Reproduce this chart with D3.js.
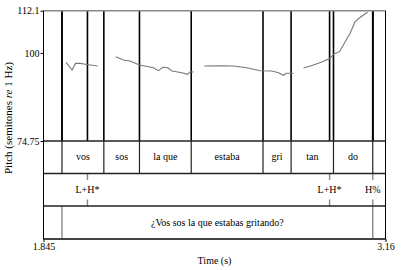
<!DOCTYPE html>
<html>
<head>
  <meta charset="UTF-8">
	<style>
	body { margin: 0; background: white; }
	svg { display: block; font-family: 'Liberation Serif', 'Times New Roman', serif; }
	.axis text { font-size: 10px; font-family: 'Liberation Serif', 'Times New Roman', serif; fill: black; }
	.axis line, .axis path { stroke: black; }
	.tierText { font-size: 10px; text-anchor: middle; }
	</style>
</head>
<body>
<script src="https://d3js.org/d3.v7.min.js"></script>
<script>
  // pitch track (semitones re 1 Hz), null = unvoiced gap
  let pitchTimes = [1.932, 1.955, 1.968, 1.986, 2.012, 2.053, null,
    2.122, 2.153, 2.178, 2.214, 2.268, 2.287, 2.304, 2.323, 2.339, 2.377, 2.399, 2.409, 2.422, null,
    2.463, 2.524, 2.576, 2.627, 2.678, 2.723, 2.749, 2.768, 2.778, 2.806, null,
    2.845, 2.883, 2.915, 2.947, 2.960, 2.983, 3.005, 3.024, 3.043, 3.063, 3.091];
  let pitchValues = [97.3, 95.1, 97.0, 97.0, 96.7, 96.25, null,
    98.9, 97.97, 97.68, 96.54, 95.76, 94.9, 95.88, 95.76, 94.82, 94.33, 93.87, 94.61, 94.53, null,
    96.25, 96.33, 96.25, 95.76, 94.9, 94.82, 94.33, 93.58, 94.16, 94.16, null,
    95.68, 96.54, 97.4, 98.46, 99.6, 100.35, 103.21, 105.62, 108.95, 110.21, 111.64];

  let wordTimes = [1.916, 2.077, 2.214, 2.413, 2.689, 2.797, 2.960, 3.111];
  let wordLabels = ["vos", "sos", "la que", "estaba", "gri", "tan", "do"];
  let toneTimes = [2.014, 2.945, 3.111];
  let toneLabels = ["L+H*", "L+H*", "H%"];
  let sentenceTimes = [1.916, 3.111];
  let sentenceLabels = ["¿Vos sos la que estabas gritando?"];

  let timeDomain = [1.845, 3.16];
  let pitchDomain = [74.75, 112.1];
  let pitchTicks = [74.75, 100, 112.1];

  let width = 402,
    height = 270;

  let svg = d3.select("body").append("svg")
    .attr("width", width)
    .attr("height", height);

  let x = d3.scaleLinear().domain(timeDomain).range([43.5, 385.5]);
  let y = d3.scaleLinear().domain(pitchDomain).range([141, 10.7]);

  // tier rows: words, tones, sentence
  let tierTop = [141, 173.5, 206];
  let tierBottom = [173.5, 206, 239];

  //pitch panel boundaries (all tiers)
  let allBounds = wordTimes.concat(toneTimes, sentenceTimes);
  svg.append("g")
    .selectAll("line")
    .data(allBounds)
    .enter()
    .append("line")
    .attr("x1", d => x(d))
    .attr("x2", d => x(d))
    .attr("y1", y.range()[1])
    .attr("y2", y.range()[0])
    .attr("stroke", "black")
    .attr("stroke-width", 1.6);

  // pitch curve
  let line = d3.line()
    .defined((d, i) => pitchTimes[i] !== null)
    .x((d, i) => x(pitchTimes[i]))
    .y((d, i) => y(pitchValues[i]));

  svg.append("path")
    .datum(pitchValues)
    .attr("d", line)
    .attr("fill", "none")
    .attr("stroke", "#777")
    .attr("stroke-width", 1.1);

  // word tier
  let words = svg.append("g");
  words.selectAll("line")
    .data(wordTimes)
    .enter()
    .append("line")
    .attr("x1", d => x(d))
    .attr("x2", d => x(d))
    .attr("y1", tierTop[0])
    .attr("y2", tierBottom[0])
    .attr("stroke", "#222")
    .attr("stroke-width", 1.2);
  words.selectAll("text")
    .data(wordLabels)
    .enter()
    .append("text")
    .attr("class", "tierText")
    .attr("x", (d, i) => (x(wordTimes[i]) + x(wordTimes[i + 1])) / 2)
    .attr("y", (tierTop[0] + tierBottom[0]) / 2)
    .attr("dy", "0.32em")
    .text(d => d);

  // tone tier (point tier)
  let tones = svg.append("g");
  tones.selectAll("line.top")
    .data(toneTimes)
    .enter()
    .append("line")
    .attr("x1", d => x(d))
    .attr("x2", d => x(d))
    .attr("y1", tierTop[1])
    .attr("y2", tierTop[1] + 6.5)
    .attr("stroke", "#888")
    .attr("stroke-width", 1.4);
  tones.selectAll("line.bottom")
    .data(toneTimes)
    .enter()
    .append("line")
    .attr("x1", d => x(d))
    .attr("x2", d => x(d))
    .attr("y1", tierBottom[1] - 6.5)
    .attr("y2", tierBottom[1])
    .attr("stroke", "#888")
    .attr("stroke-width", 1.4);
  tones.selectAll("text")
    .data(toneLabels)
    .enter()
    .append("text")
    .attr("class", "tierText")
    .attr("x", (d, i) => x(toneTimes[i]))
    .attr("y", (tierTop[1] + tierBottom[1]) / 2)
    .attr("dy", "0.32em")
    .text(d => d);

  // sentence tier
  let sentence = svg.append("g");
  sentence.selectAll("line")
    .data(sentenceTimes)
    .enter()
    .append("line")
    .attr("x1", d => x(d))
    .attr("x2", d => x(d))
    .attr("y1", tierTop[2])
    .attr("y2", tierBottom[2])
    .attr("stroke", "#888")
    .attr("stroke-width", 1.4);
  sentence.selectAll("text")
    .data(sentenceLabels)
    .enter()
    .append("text")
    .attr("class", "tierText")
    .attr("x", (d, i) => (x(sentenceTimes[i]) + x(sentenceTimes[i + 1])) / 2)
    .attr("y", (tierTop[2] + tierBottom[2]) / 2)
    .attr("dy", "0.32em")
    .text(d => d);

  // frame
  let frame = svg.append("g").attr("fill", "none");
  frame.append("line")
    .attr("x1", x.range()[0]).attr("x2", x.range()[1])
    .attr("y1", y.range()[1]).attr("y2", y.range()[1])
    .attr("stroke", "#888").attr("stroke-width", 1.4);
  frame.selectAll("line.h")
    .data([tierTop[0], tierTop[1], tierTop[2]])
    .enter()
    .append("line")
    .attr("x1", x.range()[0]).attr("x2", x.range()[1])
    .attr("y1", d => d).attr("y2", d => d)
    .attr("stroke", "#222").attr("stroke-width", 1.3);
  frame.append("line")
    .attr("x1", x.range()[0]).attr("x2", x.range()[1])
    .attr("y1", tierBottom[2]).attr("y2", tierBottom[2])
    .attr("stroke", "#444").attr("stroke-width", 1.8);
  frame.append("line")
    .attr("x1", x.range()[1]).attr("x2", x.range()[1])
    .attr("y1", y.range()[1]).attr("y2", tierBottom[2])
    .attr("stroke", "black").attr("stroke-width", 1);
  frame.append("line")
    .attr("x1", x.range()[0]).attr("x2", x.range()[0])
    .attr("y1", y.range()[1]).attr("y2", tierBottom[2])
    .attr("stroke", "black").attr("stroke-width", 1);

  // axes
  svg.append("g")
    .attr("class", "axis")
    .attr("transform", "translate(" + x.range()[0] + ",0)")
    .call(d3.axisLeft(y).tickValues(pitchTicks).tickFormat(d => d).tickSize(3).tickPadding(1).tickSizeOuter(0))
    .call(g => g.select(".domain").remove());

  svg.append("g")
    .attr("class", "axis")
    .attr("transform", "translate(0," + tierBottom[2] + ")")
    .call(d3.axisBottom(x).tickValues(timeDomain).tickFormat(d => d).tickSize(3).tickPadding(1).tickSizeOuter(0))
    .call(g => g.select(".domain").remove());

  svg.append("text")
    .attr("x", (x.range()[0] + x.range()[1]) / 2)
    .attr("y", 261)
    .attr("dy", "0.32em")
    .attr("text-anchor", "middle")
    .attr("font-size", "10px")
    .text("Time (s)");

  let ylab = svg.append("text")
    .attr("transform", "translate(8,118) rotate(-90)")
    .attr("dy", "0.32em")
    .attr("text-anchor", "middle")
    .attr("font-size", "11px");
  ylab.append("tspan").text("Pitch (semitones ");
  ylab.append("tspan").attr("font-style", "italic").text("re");
  ylab.append("tspan").text(" 1 Hz)");
</script>
</body>
</html>
